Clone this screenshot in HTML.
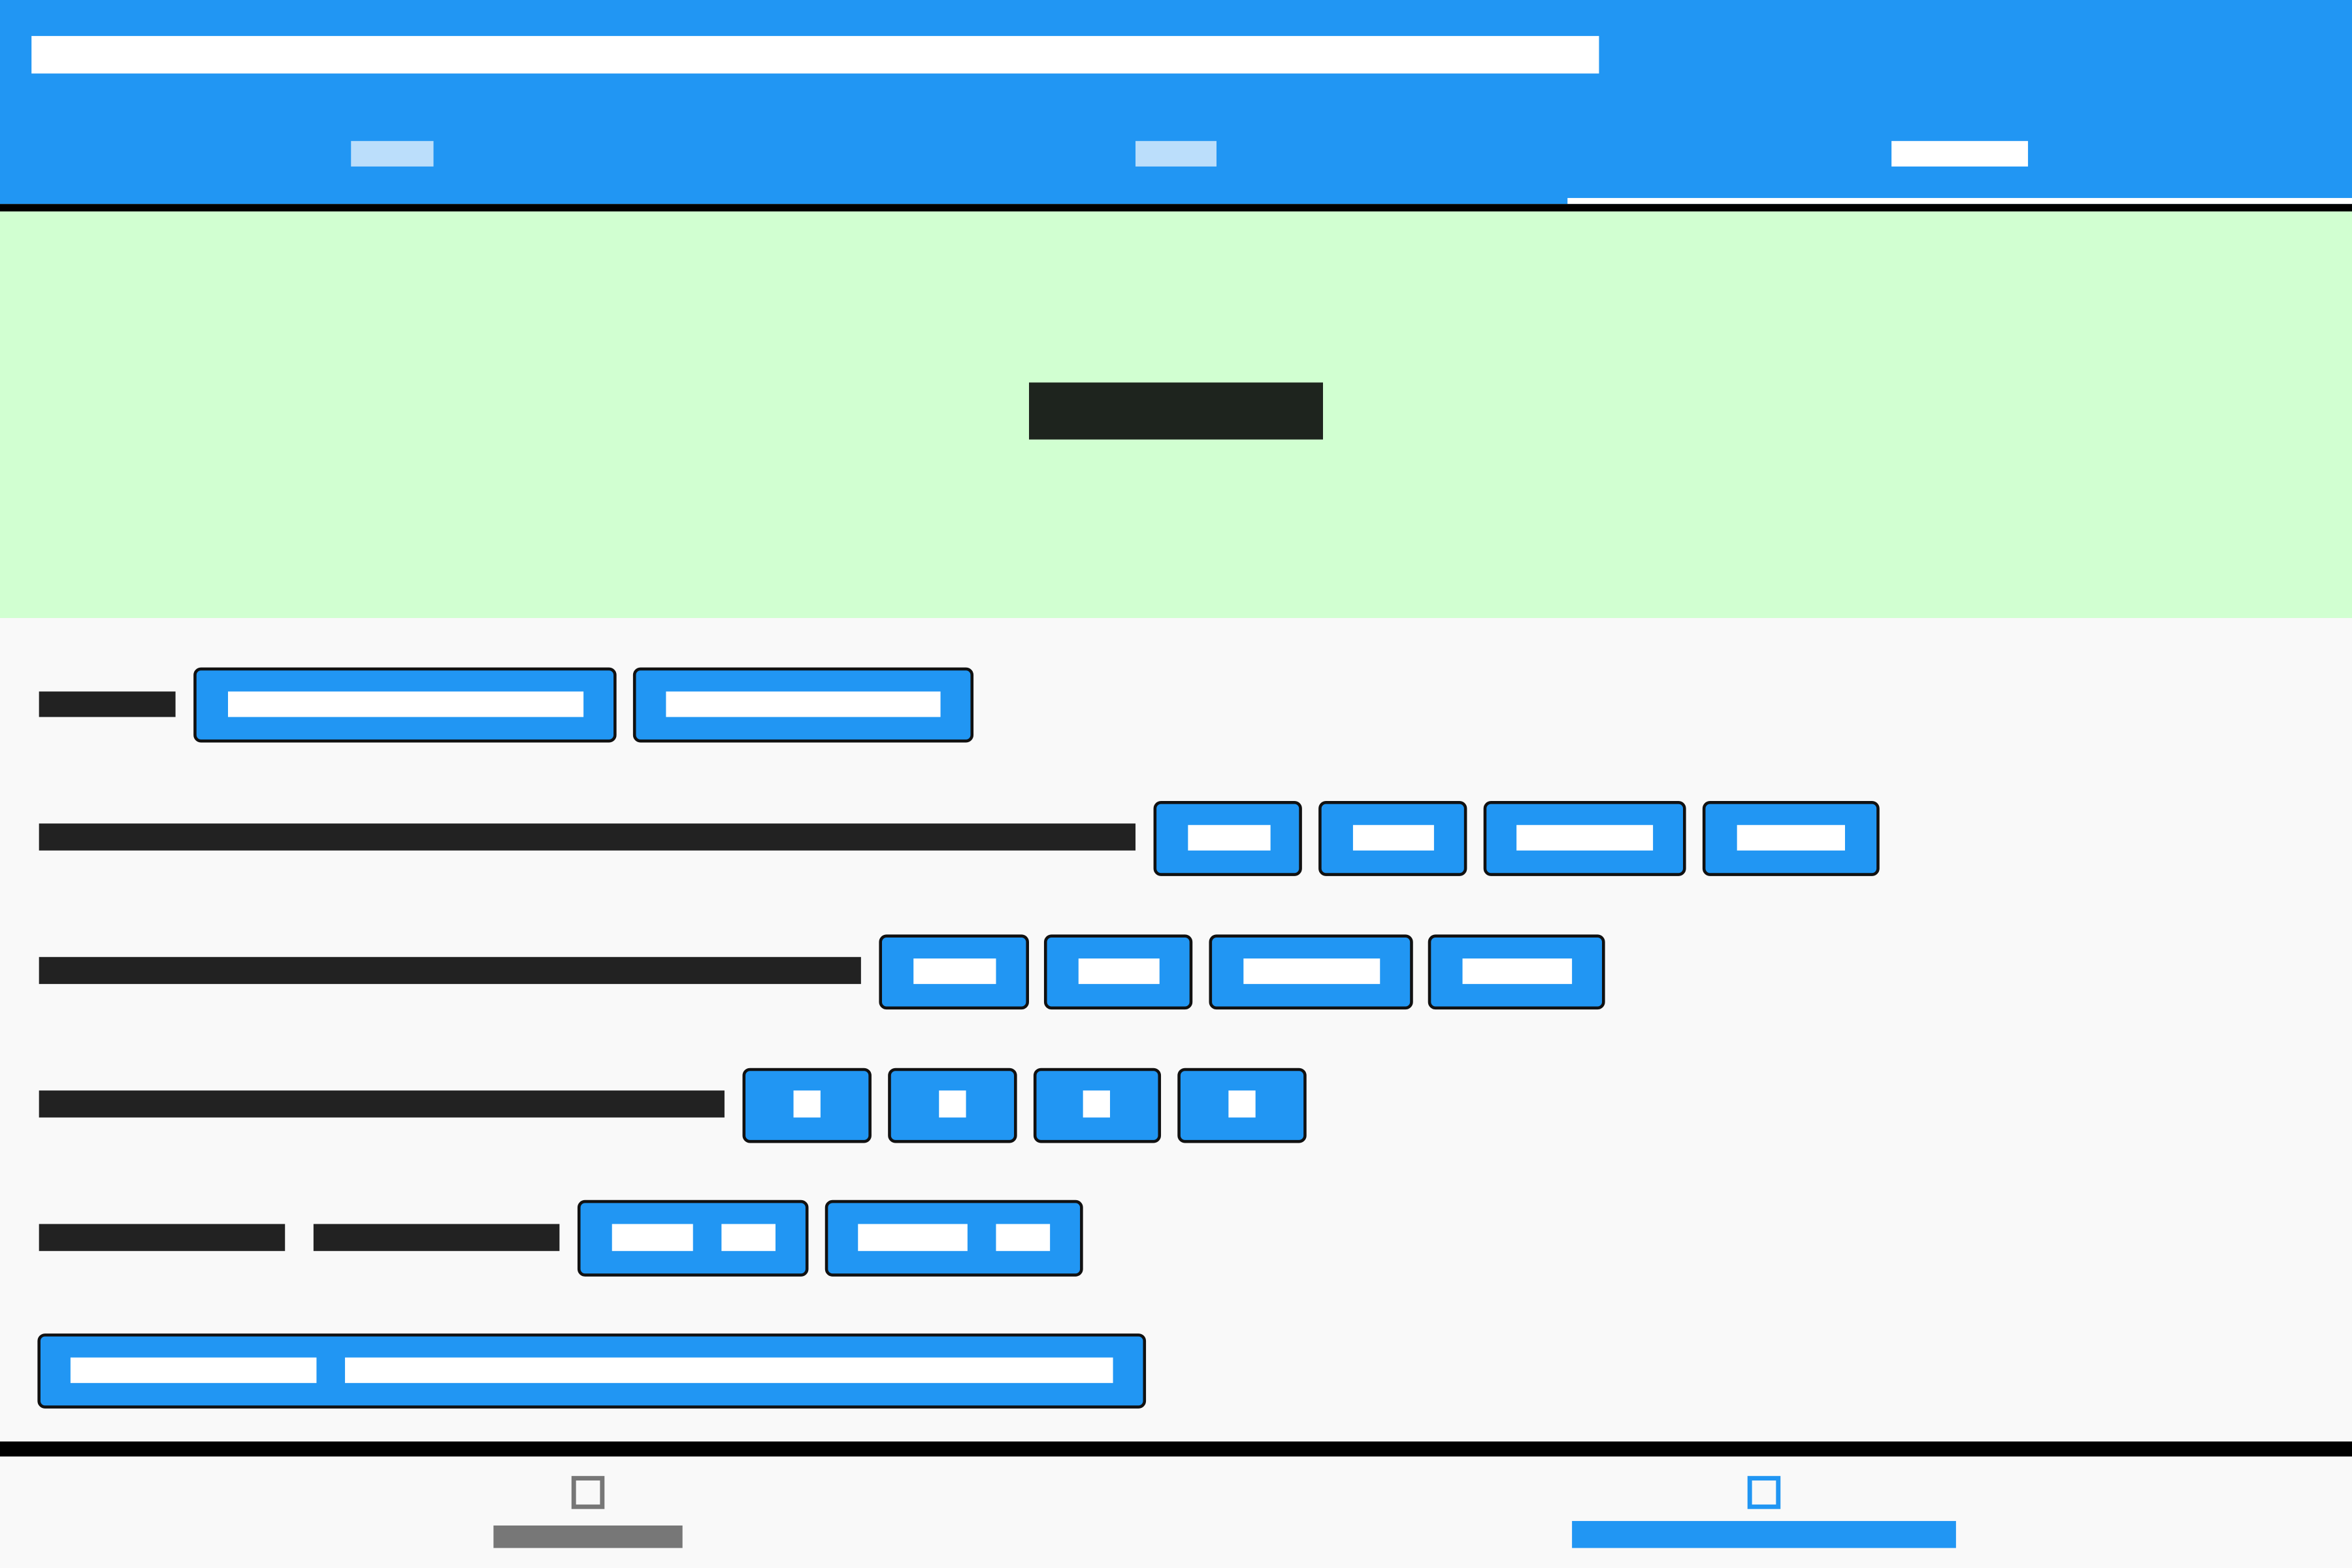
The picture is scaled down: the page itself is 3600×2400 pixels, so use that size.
<!DOCTYPE html>
<html><head><meta charset="utf-8"><style>
html,body{margin:0;padding:0;width:3600px;height:2400px;overflow:hidden;background:#F9F9F9}
#s{position:absolute;left:0;top:0;width:1568px;height:1045px;transform:scale(2.29592);transform-origin:0 0}
#s div{position:absolute;box-sizing:border-box}
.b{background:#2196F3;border:2px solid #111;border-radius:5px}
.w{background:#fff}
.k{background:#222}
</style></head><body><div id="s">
<div style="left:0;top:0;width:1568px;height:136px;background:#2196F3"></div>
<div class="w" style="left:21px;top:24px;width:1045px;height:25px"></div>
<div style="left:234px;top:94px;width:55px;height:17px;background:#BBDEFB"></div>
<div style="left:757px;top:94px;width:54px;height:17px;background:#BBDEFB"></div>
<div class="w" style="left:1261px;top:94px;width:91px;height:17px"></div>
<div class="w" style="left:1045px;top:132px;width:523px;height:4px"></div>
<div style="left:0;top:136px;width:1568px;height:5px;background:#000"></div>
<div style="left:0;top:141px;width:1568px;height:271px;background:#D1FFD1"></div>
<div style="left:686px;top:255px;width:196px;height:38px;background:#1E241E"></div>

<div class="k" style="left:26px;top:461px;width:91px;height:17px"></div>
<div class="b" style="left:129px;top:445px;width:282px;height:50px"></div>
<div class="w" style="left:152px;top:461px;width:237px;height:17px"></div>
<div class="b" style="left:422px;top:445px;width:227px;height:50px"></div>
<div class="w" style="left:444px;top:461px;width:183px;height:17px"></div>

<div class="k" style="left:26px;top:549px;width:731px;height:18px"></div>
<div class="b" style="left:769px;top:534px;width:99px;height:50px"></div><div class="w" style="left:792px;top:550px;width:55px;height:17px"></div>
<div class="b" style="left:879px;top:534px;width:99px;height:50px"></div><div class="w" style="left:902px;top:550px;width:54px;height:17px"></div>
<div class="b" style="left:989px;top:534px;width:135px;height:50px"></div><div class="w" style="left:1011px;top:550px;width:91px;height:17px"></div>
<div class="b" style="left:1135px;top:534px;width:118px;height:50px"></div><div class="w" style="left:1158px;top:550px;width:72px;height:17px"></div>

<div class="k" style="left:26px;top:638px;width:548px;height:18px"></div>
<div class="b" style="left:586px;top:623px;width:100px;height:50px"></div><div class="w" style="left:609px;top:639px;width:55px;height:17px"></div>
<div class="b" style="left:696px;top:623px;width:99px;height:50px"></div><div class="w" style="left:719px;top:639px;width:54px;height:17px"></div>
<div class="b" style="left:806px;top:623px;width:136px;height:50px"></div><div class="w" style="left:829px;top:639px;width:91px;height:17px"></div>
<div class="b" style="left:952px;top:623px;width:118px;height:50px"></div><div class="w" style="left:975px;top:639px;width:73px;height:17px"></div>

<div class="k" style="left:26px;top:727px;width:457px;height:18px"></div>
<div class="b" style="left:495px;top:712px;width:86px;height:50px"></div><div class="w" style="left:529px;top:727px;width:18px;height:18px"></div>
<div class="b" style="left:592px;top:712px;width:86px;height:50px"></div><div class="w" style="left:626px;top:727px;width:18px;height:18px"></div>
<div class="b" style="left:689px;top:712px;width:85px;height:50px"></div><div class="w" style="left:722px;top:727px;width:18px;height:18px"></div>
<div class="b" style="left:785px;top:712px;width:86px;height:50px"></div><div class="w" style="left:819px;top:727px;width:18px;height:18px"></div>

<div class="k" style="left:26px;top:816px;width:164px;height:18px"></div>
<div class="k" style="left:209px;top:816px;width:164px;height:18px"></div>
<div class="b" style="left:385px;top:800px;width:154px;height:51px"></div>
<div class="w" style="left:408px;top:816px;width:54px;height:18px"></div><div class="w" style="left:481px;top:816px;width:36px;height:18px"></div>
<div class="b" style="left:550px;top:800px;width:172px;height:51px"></div>
<div class="w" style="left:572px;top:816px;width:73px;height:18px"></div><div class="w" style="left:664px;top:816px;width:36px;height:18px"></div>

<div class="b" style="left:25px;top:889px;width:739px;height:50px"></div>
<div class="w" style="left:47px;top:905px;width:164px;height:17px"></div>
<div class="w" style="left:230px;top:905px;width:512px;height:17px"></div>

<div style="left:0;top:961px;width:1568px;height:10px;background:#000"></div>
<div style="left:381px;top:984px;width:22px;height:22px;border:3px solid #777"></div>
<div style="left:329px;top:1017px;width:126px;height:15px;background:#777"></div>
<div style="left:1165px;top:984px;width:22px;height:22px;border:3px solid #2196F3"></div>
<div style="left:1048px;top:1014px;width:256px;height:18px;background:#2196F3"></div>
</div></body></html>
